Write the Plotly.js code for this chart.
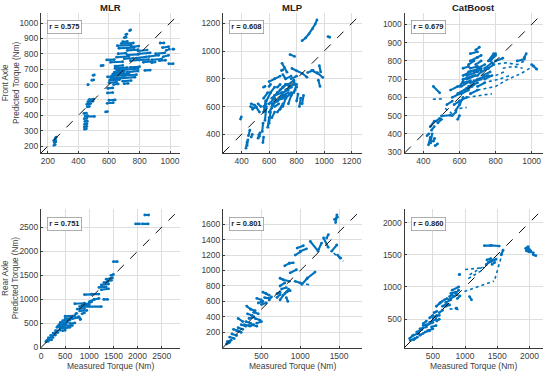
<!DOCTYPE html>
<html>
<head>
<meta charset="utf-8">
<script src="https://cdn.plot.ly/plotly-3.0.1.min.js"></script>
<style>html,body{margin:0;padding:0;background:#fff;}#chart{width:550px;height:375px;}</style>
</head>
<body>
<div id="chart"></div>
<script>
// ---- DATA: each streak of points is [x1, y1, x2, y2, ...] in Nm (measured, predicted) ----
const modelNames = ['MLR', 'MLP', 'CatBoost'];
const axleLabels = ['Front Axle', 'Rear Axle'];
const rValues = ['0.575', '0.608', '0.679', '0.751', '0.801', '0.860'];

const frontMLR = [
  [240,205,248,210],[242,222,252,228],[238,235,250,238],[248,250,254,258],
  [440,310,452,312],[438,325,455,328],[440,342,456,345],[442,360,458,362],[438,378,454,380],[444,395,460,398],[436,412,452,414],[458,392,505,393],
  [458,455,472,458],[455,472,480,476],[462,488,495,492],[470,502,500,505],
  [462,598,464,600],[488,628,500,630],[496,660,504,662],
  [578,422,590,424],[588,478,628,482],[600,498,640,500],[590,545,625,548],[592,575,625,578],
  [548,722,562,724],[585,760,635,762],
  [600,612,650,616],[605,628,670,632],[612,642,690,646],[618,656,710,660],[625,668,730,672],[635,680,700,684],[650,694,760,700],[640,706,720,710],[660,640,770,648],[690,622,745,626],[700,605,725,608],[640,720,690,724],[720,680,790,688],[590,650,625,652],[630,600,660,604],[740,712,800,716],[700,660,780,664],
  [610,745,690,748],[650,778,730,782],[700,768,760,771],[720,792,790,796],[660,800,710,804],[740,755,800,760],
  [655,852,745,856],[665,836,765,840],[680,866,760,870],[690,878,720,880],[720,822,790,826],[745,846,795,850],[700,905,712,908],[710,925,718,928],[735,950,742,955],
  [780,772,845,780],[800,800,870,806],[790,818,850,824],[800,760,860,762],[825,745,880,750],[860,782,925,790],[880,760,945,766],[905,800,965,806],[935,870,960,870],[950,840,990,846],[955,780,990,790],[975,822,995,830],[1018,830,1024,830],[992,735,1020,735],[835,692,870,694],[880,742,902,746],[765,700,790,704],[930,755,970,758]
];
const frontMLRTrails = [];

const frontMLP = [
  [840,1075,865,1095,890,1125,915,1160,935,1195,948,1225],[1028,1105,1040,1100],
  [752,975,785,962],[694,912,712,880,730,848],[766,875,800,858,840,840,875,812],
  [880,845,920,860],[910,860,950,840],[950,845,990,810],[958,790,970,745],[965,895,975,850],
  [600,780,640,800],[640,800,680,820],[700,830,720,800],[720,800,760,820],[740,760,780,790],[760,800,800,820],[780,780,800,740],[720,760,760,740],[680,720,720,760],[660,700,700,740],[640,680,690,700],[620,660,660,700],[650,640,700,660],[700,700,740,720],[720,660,760,700],[760,680,790,720],[780,700,800,760],[740,620,760,680],[700,600,720,660],[680,580,700,620],[660,560,690,600],[620,600,650,640],[600,620,640,660],[580,640,610,700],[610,700,640,740],[560,660,590,700],
  [660,640,690,680],[680,660,720,680],[700,680,740,700],[720,720,760,740],[620,620,660,640],[640,600,670,620],[700,740,730,760],[750,740,780,760],[600,560,620,590],[560,600,580,620],
  [820,600,830,660],[840,620,850,680],[800,640,810,690],
  [600,480,610,560],[590,450,600,520],[570,500,580,600],[560,560,575,640],[550,420,556,480],[510,590,530,560],[480,580,505,600],[465,600,480,590],[470,620,495,610],[520,620,540,600],[620,520,640,560],
  [432,300,440,345],[440,320,446,360],[450,390,460,430],[470,380,478,400],[392,510,398,525],[520,372,526,398],[530,385,534,410],[555,340,560,380],
  [560,740,570,745],[600,745,610,760],[690,860,700,865],[660,740,680,760]
];
const frontMLPTrails = [];

const frontCat = [
  [428,340,438,380],[440,350,448,400],[465,335,478,345],[455,360,462,375],[420,390,430,400],[438,440,460,470],[470,470,490,485],[445,420,460,440],[480,460,500,480],
  [455,660,490,625],[500,498,548,502],[560,500,580,520],[590,480,600,500],[530,560,560,580],[600,560,620,600],
  [550,640,590,660],[560,600,600,620],[570,560,600,580],[580,530,600,560],[600,580,640,600],[590,620,640,650],[610,660,660,690],[620,700,680,720],[640,720,700,740],[650,740,720,760],[660,760,700,770],[620,680,660,690],[640,650,680,670],[600,660,620,690],[650,780,680,800],[660,800,700,820],[660,840,700,850],[690,860,710,875],[700,700,760,720],[720,740,760,760],[740,760,780,790],[760,800,790,840],[700,660,740,680],[740,700,780,720],[660,620,700,640],
  [610,620,650,640],[630,640,670,660],[650,660,700,680],[660,680,720,700],[680,690,730,710],[620,720,660,740],[640,700,690,720],[680,740,720,750],[700,760,740,780],[690,780,720,800],[700,820,720,830],[770,800,800,830],[780,820,800,840],[700,720,720,740],[730,720,770,740],[760,760,790,780],[620,760,650,770],
  [800,800,840,815],[920,800,960,810],[960,820,970,840],[1000,780,1028,755]
];
const frontCatTrails = [
  [700,640,800,660,870,700,940,730,990,760,1020,780],[640,600,700,610,780,620],[600,540,640,545],[452,590,510,592],[520,540,560,510],
  [730,680,820,700,880,720],[780,780,860,790,920,780,960,800],[840,760,900,770,950,760],[800,720,860,745]
];

const rearMLR = [
  [1960,2570,2040,2570],[2100,2570,2220,2570],[2150,2755,2230,2755],[1500,1785,1580,1785],
  [1450,1500,1500,1520],[1350,1420,1480,1450],[1380,1380,1460,1400],[1250,1300,1400,1320],[1200,1250,1350,1260],[1250,1200,1400,1220],[1300,1350,1380,1360],
  [900,1100,1050,1104],[1050,1110,1200,1110],[1300,1000,1380,1000],[1100,1000,1200,1020],[800,850,1250,850],[850,880,1000,890],[700,910,900,920],[750,800,900,810],[800,760,950,770],[850,700,900,720],[720,700,740,710],[810,580,820,590],[780,640,800,620],[950,900,1050,950],[1000,950,1100,1000],
  [500,650,700,660],[500,600,650,610],[450,560,600,570],[400,520,550,530],[380,480,520,490],[350,450,500,455],[400,400,520,410],[330,420,450,430],[450,350,500,360],[300,350,400,360],[250,300,350,310],[200,250,300,260],[150,200,250,210],[120,150,220,160],[100,120,150,130],[600,500,700,510],[550,450,650,460],[500,400,600,420],[650,600,750,620]
];
const rearMLRTrails = [];

const rearMLP = [
  [1455,1620,1472,1720],[1440,1660,1480,1690],[1340,1420,1362,1464],[1300,1420,1360,1300],[1235,1270,1275,1355],[1130,1375,1230,1250],[935,1200,1000,1240],[1000,1250,1080,1280],[960,1290,1040,1320],[1405,1250,1470,1330],[1480,1200,1520,1160],
  [800,1060,860,1095],[860,1095,910,1100],[870,970,950,1010],[1020,820,1090,900],[1090,900,1190,980],[935,860,1000,840],
  [740,900,780,880],[780,880,860,860],[740,800,800,840],[760,760,820,780],[800,700,850,760],[820,720,870,740],[700,700,740,720],[700,650,740,690],[740,620,780,680],[820,650,840,600],
  [520,720,560,700],[560,700,600,680],[540,650,600,640],[600,620,630,660],[440,640,500,620],[460,580,520,600],[500,560,560,580],
  [310,540,360,500],[360,500,420,480],[400,460,460,440],[320,440,380,420],[340,380,400,400],[420,380,480,360],[440,320,500,340],[300,340,360,320],[280,300,340,290],[350,280,400,300],[380,300,440,280],
  [200,380,260,340],[240,300,300,280],[200,260,260,240],[180,220,240,200],[120,180,180,160],[90,140,150,120],[140,240,200,220],[60,80,110,100],[50,50,90,70]
];
const rearMLPTrails = [[1430,1225,1555,1120],[1000,840,1140,810]];

const rearCat = [
  [1940,1600,1980,1620],[1960,1580,2020,1560],[2000,1545,2060,1530],[2060,1500,2100,1485],[1975,1620,2000,1580],[1950,1560,1990,1545],
  [1300,1640,1400,1645,1530,1635],
  [1330,1350,1400,1400],[1360,1380,1440,1420],[1400,1400,1480,1430],[1340,1420,1400,1440],[1420,1350,1460,1380],
  [1560,1500,1590,1570],
  [910,1190,915,1195],[1070,850,1100,800],
  [800,950,900,1000],[850,900,900,950],[820,850,880,880],[750,800,820,850],[700,760,780,800],[650,700,720,740],[880,820,920,860],[780,900,850,920],[760,850,800,880],[680,800,720,820],[700,700,760,720],
  [555,700,620,760],[600,740,650,780],[860,670,870,672],
  [550,540,600,560],[560,470,600,500],
  [500,520,560,560],[450,450,550,500],[400,400,500,450],[300,350,400,380],[350,400,420,420],[250,300,330,340],[200,250,280,280],[420,320,500,350],[480,380,550,400],[380,300,450,320],[300,250,350,280],[150,170,220,200],[200,180,260,220],[140,200,180,240],[350,430,400,470],[450,520,500,560],[520,600,560,620],[600,600,650,640]
];
const rearCatTrails = [
  [1580,1530,1540,1400,1500,1250,1460,1110],[990,930,1200,1000,1450,1090],[1000,1270,1150,1290,1300,1300],
  [1070,1190,1250,1300,1430,1400],[1050,1130,1250,1250],[760,660,910,650]
];

const xTicks = [[200,400,600,800,1000],[400,600,800,1000,1200],[400,600,800,1000],[0,500,1000,1500,2000,2500],[500,1000,1500],[500,1000,1500,2000]];
const yTicks = [[200,300,400,500,600,700,800,900,1000],[400,600,800,1000,1200],[300,400,500,600,700,800,900,1000],[0,500,1000,1500,2000,2500],[200,400,600,800,1000,1200,1400,1600,1800],[500,1000,1500,2000]];

// ---- layout geometry (pixels) ----
const W = 550, H = 375;
const panels = [frontMLR, frontMLP, frontCat, rearMLR, rearMLP, rearCat];
const trails = [frontMLRTrails, frontMLPTrails, frontCatTrails, rearMLRTrails, rearMLPTrails, rearCatTrails];
const colPx = [[41,180],[223,362],[404.5,543]];
const rowPx = [[13,153],[209,347.5]];
const ranges = [[155,1065],[265,1275],[295,1063],[0,2880],[5,1795],[60,2210]];

function build(segs){
  const x = [], y = [];
  segs.forEach(s => {
    for (let i = 0; i < s.length; i += 2){ x.push(s[i]); y.push(s[i+1]); }
    x.push(null); y.push(null);
  });
  return {x, y};
}

const font = 'Liberation Sans, Arial, Helvetica, sans-serif';
const blue = '#0072BD';
const traces = [], annotations = [], shapes = [];
const layout = {
  width: W, height: H, margin: {l:0, r:0, t:0, b:0},
  paper_bgcolor: '#fff', plot_bgcolor: '#fff', showlegend: false,
  font: {family: font, color: '#404040'}
};

panels.forEach((segs, i) => {
  const col = i % 3, row = Math.floor(i / 3);
  const n = i === 0 ? '' : String(i + 1);
  const t = build(trails[i]);
  traces.push({
    x: t.x, y: t.y, type: 'scatter', mode: 'lines',
    xaxis: 'x' + n, yaxis: 'y' + n, connectgaps: false, hoverinfo: 'skip',
    line: {color: blue, width: 1.6, dash: 'dot'}
  });
  const d = build(segs);
  traces.push({
    x: d.x, y: d.y, type: 'scatter', mode: 'lines+markers',
    xaxis: 'x' + n, yaxis: 'y' + n, connectgaps: false, hoverinfo: 'skip',
    line: {color: blue, width: 2.1},
    marker: {color: blue, size: 2.8}
  });
  const xd = [colPx[col][0]/W, colPx[col][1]/W];
  const yd = [1 - rowPx[row][1]/H, 1 - rowPx[row][0]/H];
  const common = {
    showgrid: true, gridcolor: '#dedede', gridwidth: 1, zeroline: false,
    showline: true, linecolor: '#3a3a3a', linewidth: 1,
    ticks: 'inside', ticklen: 2, tickcolor: '#3a3a3a',
    tickfont: {family: font, size: 8.5, color: '#404040'}, fixedrange: true
  };
  layout['xaxis' + n] = Object.assign({}, common, {domain: xd, range: ranges[i], anchor: 'y' + n, tickmode: 'array', tickvals: xTicks[i]});
  layout['yaxis' + n] = Object.assign({}, common, {domain: yd, range: ranges[i], anchor: 'x' + n, tickmode: 'array', tickvals: yTicks[i]});
  shapes.push({type: 'line', xref: 'x' + n + ' domain', yref: 'y' + n + ' domain', x0: 0, y0: 0, x1: 1, y1: 1,
    line: {color: '#111', width: 1, dash: 'dash'}, layer: 'above'});
  annotations.push({
    xref: 'paper', yref: 'paper', x: (colPx[col][0] + 6)/W, y: 1 - (rowPx[row][0] + 7.5)/H,
    xanchor: 'left', yanchor: 'top', showarrow: false,
    text: '<b>r = ' + rValues[i] + '</b>', font: {family: font, size: 7.5, color: '#222'},
    bgcolor: '#fff', bordercolor: '#9a9a9a', borderwidth: 0.8, borderpad: 1.5
  });
  if (row === 0){
    annotations.push({xref: 'paper', yref: 'paper', x: (colPx[col][0] + colPx[col][1])/2/W, y: 1 - 7/H,
      xanchor: 'center', yanchor: 'middle', showarrow: false,
      text: '<b>' + modelNames[col] + '</b>', font: {family: font, size: 9.5, color: '#222'}});
  } else {
    annotations.push({xref: 'paper', yref: 'paper', x: (colPx[col][0] + colPx[col][1])/2/W, y: 1 - 366/H,
      xanchor: 'center', yanchor: 'middle', showarrow: false,
      text: 'Measured Torque (Nm)', font: {family: font, size: 8.5, color: '#404040'}});
  }
  if (col === 0){
    annotations.push({xref: 'paper', yref: 'paper', x: 11/W, y: 1 - (rowPx[row][0] + rowPx[row][1])/2/H,
      xanchor: 'center', yanchor: 'middle', showarrow: false, textangle: -90,
      text: axleLabels[row] + '<br>Predicted Torque (Nm)', font: {family: font, size: 8.2, color: '#404040'}});
  }
});

layout.annotations = annotations;
layout.shapes = shapes;
Plotly.newPlot('chart', traces, layout, {displayModeBar: false, staticPlot: true});
</script>
</body>
</html>
